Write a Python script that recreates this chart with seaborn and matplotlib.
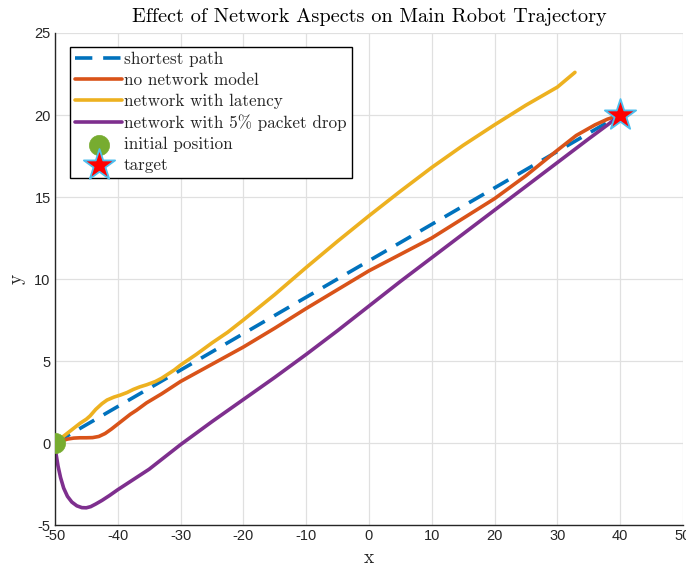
import matplotlib
matplotlib.use("Agg")
import matplotlib.pyplot as plt
import seaborn as sns

# ---- data ----
shortest_x = [-50, 40]
shortest_y = [0, 20]

nonet_x = [-50, -49, -48, -47, -46, -45, -44, -43, -42, -41, -40, -39, -38, -37, -35.4, -33, -30, -25, -20, -15, -10, -5, 0, 5, 10, 15, 20, 25, 30, 33, 36, 38, 40]
nonet_y = [0, 0.12, 0.24, 0.3, 0.32, 0.32, 0.33, 0.4, 0.58, 0.85, 1.15, 1.45, 1.75, 2.0, 2.45, 3.0, 3.75, 4.8, 5.85, 7.0, 8.2, 9.35, 10.5, 11.5, 12.5, 13.7, 14.9, 16.3, 17.85, 18.75, 19.4, 19.75, 20]

latency_x = [-50, -49, -48, -47, -46, -45, -44.4, -43.5, -42.5, -41.7, -40.6, -39.6, -38.5, -37.5, -36.5, -35.4, -34, -33, -32, -31, -30, -27.5, -25, -22.5, -20, -15, -10, -5, 0, 5, 10, 15, 20, 25, 30, 32.8]
latency_y = [0, 0.3, 0.6, 0.9, 1.2, 1.45, 1.65, 2.05, 2.4, 2.62, 2.8, 2.92, 3.08, 3.27, 3.42, 3.55, 3.75, 3.95, 4.2, 4.45, 4.75, 5.4, 6.1, 6.75, 7.5, 9.05, 10.7, 12.3, 13.85, 15.35, 16.8, 18.15, 19.4, 20.6, 21.7, 22.6]

drop_x = [-50, -49.8, -49.5, -49.1, -48.6, -48, -47.3, -46.5, -45.7, -45, -44.3, -43.5, -42.5, -41.3, -40, -38, -35, -32.5, -30, -25, -20, -15, -10, -5, 0, 5, 10, 15, 20, 25, 30, 35, 38, 40]
drop_y = [0, -0.7, -1.4, -2.1, -2.75, -3.25, -3.6, -3.83, -3.94, -3.95, -3.88, -3.72, -3.5, -3.2, -2.85, -2.35, -1.6, -0.85, -0.1, 1.3, 2.65, 4.0, 5.4, 6.85, 8.35, 9.85, 11.3, 12.75, 14.2, 15.65, 17.1, 18.55, 19.4, 20]

init_x = [-50]
init_y = [0]
target_x = [40]
target_y = [20]

labels = ["shortest path", "no network model", "network with latency",
          "network with 5% packet drop", "initial position", "target"]
xticks = [-50, -40, -30, -20, -10, 0, 10, 20, 30, 40, 50]
yticks = [-5, 0, 5, 10, 15, 20, 25]

# ---- style ----
sns.set_style("whitegrid")
plt.rcParams["font.family"] = ["Liberation Sans", "DejaVu Sans"]
plt.rcParams["axes.unicode_minus"] = False

c_blue = (0.0, 0.447, 0.741)
c_orange = (0.85, 0.325, 0.098)
c_yellow = (0.929, 0.694, 0.125)
c_purple = (0.494, 0.184, 0.556)
c_green = (0.466, 0.674, 0.188)
c_lblue = (0.301, 0.745, 0.933)
c_axis = (0.15, 0.15, 0.15)

fig = plt.figure(figsize=(6.86, 5.66), dpi=100)
ax = fig.add_axes([0.080, 0.0724, 0.9156, 0.8693])

lw = 2.6
sns.lineplot(x=shortest_x, y=shortest_y, ax=ax, color=c_blue, lw=lw,
             sort=False, estimator=None, label=labels[0])
ax.lines[-1].set_dashes((4.8, 3.0))
sns.lineplot(x=nonet_x, y=nonet_y, ax=ax, color=c_orange, lw=lw,
             sort=False, estimator=None, label=labels[1])
sns.lineplot(x=latency_x, y=latency_y, ax=ax, color=c_yellow, lw=lw,
             sort=False, estimator=None, label=labels[2])
sns.lineplot(x=drop_x, y=drop_y, ax=ax, color=c_purple, lw=lw,
             sort=False, estimator=None, label=labels[3])
sns.scatterplot(x=init_x, y=init_y, ax=ax, color=c_green, s=210,
                edgecolor=c_green, linewidth=0.5, label=labels[4], zorder=5)
sns.scatterplot(x=target_x, y=target_y, ax=ax, color="red", s=560, marker="*",
                edgecolor=c_lblue, linewidth=1.3, label=labels[5], zorder=6)

ax.set_xlim(-50, 50)
ax.set_ylim(-5, 25)
ax.set_xticks(xticks)
ax.set_yticks(yticks)
ax.grid(True, color=(0.88, 0.88, 0.88), lw=0.9)
for s in ["top", "right"]:
    ax.spines[s].set_visible(False)
for s in ["left", "bottom"]:
    ax.spines[s].set_color(c_axis)
    ax.spines[s].set_linewidth(1.0)
ax.tick_params(direction="in", length=5, width=1.0, color=c_axis,
               labelsize=10.5, labelcolor=c_axis, pad=3)

ax.set_title("Effect of Network Aspects on Main Robot Trajectory",
             fontfamily="cmr10", fontsize=14.6, color="black", pad=8)
ax.set_xlabel("x", fontfamily="cmr10", fontsize=14, labelpad=4)
ax.set_ylabel("y", fontfamily="cmr10", fontsize=14, labelpad=6)

leg = ax.legend(loc="upper left", bbox_to_anchor=(0.024, 0.9715),
                borderaxespad=0, prop={"family": "cmr10", "size": 12.3},
                handlelength=2.75, handletextpad=0.1, labelspacing=0.32,
                borderpad=0.3, fancybox=False, framealpha=1,
                edgecolor="black", markerscale=1.0)
leg.get_frame().set_linewidth(1.0)

fig.savefig("out.png", dpi=100)
